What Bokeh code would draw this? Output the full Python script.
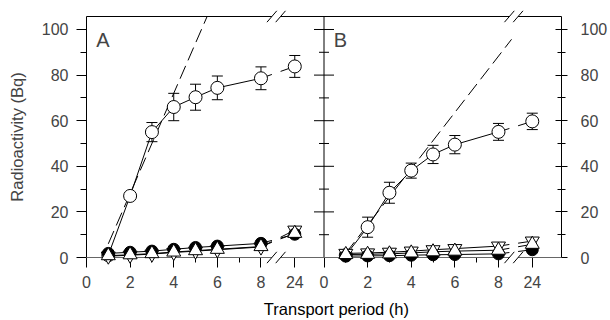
from bokeh.plotting import figure
from bokeh.models import (Range1d, LinearAxis, FixedTicker, Span, Label,
                          ColumnDataSource, Whisker, TeeHead)
from bokeh.core.properties import value
from bokeh.embed import file_html
from bokeh.resources import INLINE

# ---------------- data ----------------
hours = [1, 2, 3, 4, 5, 6, 8, 24]
x_tick_hours = [0, 2, 4, 6, 8, 24]
x_tick_labels = ["0", "2", "4", "6", "8", "24"]
x_minor_hours = [1, 3, 5, 7]
y_ticks = [0, 20, 40, 60, 80, 100]
y_minor = [10, 30, 50, 70, 90]

# Panel A
a_open = [1.0, 27.0, 55.0, 66.0, 70.3, 74.4, 78.6, 83.8]
a_open_err = [0.0, 1.5, 4.2, 6.0, 5.7, 5.2, 5.0, 4.8]
a_fill = [1.8, 2.3, 2.8, 3.6, 4.4, 5.0, 6.2, 10.2]
a_up = [0.8, 1.2, 1.7, 2.4, 3.0, 3.6, 4.8, 10.6]
a_down = [0.6, 1.0, 1.5, 2.2, 2.8, 3.4, 4.6, 12.0]
a_dash_x = [1.0, 5.53]
a_dash_y = [6.0, 105.7]

# Panel B
b_open = [1.0, 13.3, 28.4, 38.1, 45.2, 49.5, 55.1, 59.7]
b_open_err = [0.0, 4.4, 4.6, 3.3, 4.0, 4.0, 3.7, 3.6]
b_fill = [0.6, 0.7, 0.8, 1.0, 1.2, 1.3, 1.6, 3.4]
b_up = [1.3, 1.4, 1.6, 2.0, 2.5, 2.8, 3.2, 5.8]
b_down = [1.8, 2.0, 2.3, 2.8, 3.4, 3.9, 5.0, 7.2]
b_dash_x = [1.0, 8.6]
b_dash_y = [1.9, 95.7]

x_title = "Transport period (h)"
y_title = "Radioactivity (Bq)"

# ---------------- layout constants ----------------
BREAK_POS = 9.55      # axis position of the 24 h point (after the break)
PANEL = 10.89         # width of one panel in axis units
GAP = (8.5, 8.9)      # axis break
YTOP = 105.7
FONT = "Liberation Sans"


def pos(h):
    return float(h) if h <= 8 else BREAK_POS


p = figure(width=610, height=320, x_range=Range1d(0, 2 * PANEL),
           y_range=Range1d(0, YTOP), output_backend="svg", toolbar_location=None,
           min_border_left=86, min_border_right=47, min_border_top=16,
           min_border_bottom=63)
p.extra_x_ranges = {"B": Range1d(-PANEL, PANEL)}
p.grid.visible = False
p.outline_line_color = None

# ---------------- axes ----------------
xt = [round(pos(h), 4) for h in x_tick_hours] + [round(pos(h) + PANEL, 4) for h in x_tick_hours]
xm = [float(h) for h in x_minor_hours] + [h + PANEL for h in x_minor_hours]
xa = p.xaxis[0]
xa.ticker = FixedTicker(ticks=xt, minor_ticks=xm)
xa.major_label_overrides = {t: lab for t, lab in zip(xt, x_tick_labels * 2)}
xa.axis_line_color = None
xa.major_tick_out = 10
xa.major_tick_in = 0
xa.minor_tick_out = 5
xa.minor_tick_in = 0
xa.major_label_standoff = 8
xa.major_label_text_font = FONT
xa.major_label_text_font_size = "16px"
xa.major_tick_line_color = "black"
xa.minor_tick_line_color = "black"

ya = p.yaxis[0]
ya.ticker = FixedTicker(ticks=y_ticks, minor_ticks=y_minor)
ya.major_tick_out = 10
ya.major_tick_in = 0
ya.minor_tick_out = 6
ya.minor_tick_in = 0
ya.major_label_standoff = 8
ya.major_label_text_font = FONT
ya.major_label_text_font_size = "16px"
ya.axis_label = y_title
ya.axis_label_text_font = FONT
ya.axis_label_text_font_size = "16.5px"
ya.axis_label_text_font_style = "normal"
ya.axis_label_standoff = 13

ra = LinearAxis(ticker=FixedTicker(ticks=y_ticks, minor_ticks=y_minor))
ra.major_tick_in = 6
ra.major_tick_out = 6
ra.minor_tick_in = 4
ra.minor_tick_out = 4
ra.major_label_standoff = 13
ra.major_label_text_font = FONT
ra.major_label_text_font_size = "16px"
p.add_layout(ra, "right")

# middle boundary between panels with crossing ticks
p.add_layout(Span(location=PANEL, dimension="height", line_color="black", line_width=1))
p.scatter(x=[PANEL] * len(y_ticks), y=y_ticks, marker="dash", size=20,
          line_color="black", level="overlay")
p.scatter(x=[PANEL] * len(y_minor), y=y_minor, marker="dash", size=10,
          line_color="black", level="overlay")

# x axis title (spans both panels)
p.text(x=[11.46], y=[-22.8], text=[x_title], text_align="center",
       text_baseline="middle", text_font=value(FONT), text_font_size="16.5px",
       text_color="black", level="overlay")


def draw_panel(rn, op, op_err, fill, up, down, dash_x, dash_y, letter):
    kw = dict(level="overlay")
    if rn != "default":
        kw["x_range_name"] = rn
    xs = [pos(h) for h in hours]

    # broken axis lines (bottom and top)
    p.segment(x0=[0, GAP[1]], y0=[0, 0], x1=[GAP[0], PANEL], y1=[0, 0],
              line_color="#666666", line_width=1, **kw)
    p.segment(x0=[0, GAP[1]], y0=[YTOP, YTOP], x1=[GAP[0], PANEL], y1=[YTOP, YTOP],
              line_color="black", line_width=1, **kw)
    # break marks
    p.scatter(x=[GAP[0], GAP[1], GAP[0], GAP[1]], y=[0, 0, YTOP, YTOP], marker="dash",
              size=15, angle=0.86, line_color="black", line_width=1, **kw)

    # regression (dashed) line
    p.line(dash_x, dash_y, line_color="black", line_dash="14 6", line_width=1, **kw)

    def series_line(vals):
        p.line(xs[:7], vals[:7], line_color="black", line_width=1, **kw)
        y8, y24 = vals[6], vals[7]
        slope = (y24 - y8) / (BREAK_POS - 8)
        p.segment(x0=[8, GAP[1]], y0=[y8, y8 + slope * (GAP[1] - 8)],
                  x1=[GAP[0], BREAK_POS], y1=[y8 + slope * (GAP[0] - 8), y24],
                  line_color="black", line_width=1, **kw)

    # open-circle series with error bars
    series_line(op)
    src = ColumnDataSource(dict(x=[x for x, e in zip(xs, op_err) if e > 0],
                                u=[v + e for v, e in zip(op, op_err) if e > 0],
                                l=[v - e for v, e in zip(op, op_err) if e > 0]))
    wk = Whisker(source=src, base="x", upper="u", lower="l", line_color="black",
                 upper_head=TeeHead(size=11, line_color="black"),
                 lower_head=TeeHead(size=11, line_color="black"), level="underlay")
    if rn != "default":
        wk.x_range_name = rn
    p.add_layout(wk)
    p.scatter(xs, op, marker="circle", size=13, fill_color="white",
              line_color="black", line_width=1, **kw)

    # low series
    for vals in (down, fill, up):
        series_line(vals)
    p.scatter(xs, down, marker="inverted_triangle", size=14, fill_color="white",
              line_color="black", line_width=1, **kw)
    p.scatter(xs, fill, marker="circle", size=12, fill_color="black",
              line_color="black", line_width=1, **kw)
    p.scatter(xs, up, marker="triangle", size=14, fill_color="white",
              line_color="black", line_width=1, **kw)

    lab = Label(x=0.45, y=95.6, text=letter, text_baseline="alphabetic",
                text_font=FONT, text_font_size="20px")
    if rn != "default":
        lab.x_range_name = rn
    p.add_layout(lab)


draw_panel("default", a_open, a_open_err, a_fill, a_up, a_down, a_dash_x, a_dash_y, "A")
draw_panel("B", b_open, b_open_err, b_fill, b_up, b_down, b_dash_x, b_dash_y, "B")

open("out.html", "w").write(file_html(p, INLINE))
